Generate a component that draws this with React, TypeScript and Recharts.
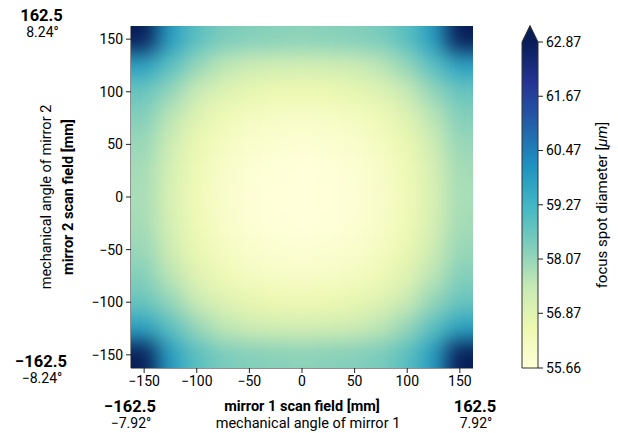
import { ScatterChart, Scatter, XAxis, YAxis, ComposedChart, ReferenceArea } from 'recharts'

// cell centres of the scan field grid [mm]
const X_CENTERS = [-150, -125, -100, -75, -50, -25, 0, 25, 50, 75, 100, 125, 150]
const Y_CENTERS = [150, 125, 100, 75, 50, 25, 0, -25, -50, -75, -100, -125, -150]

// focus spot diameter [um], one row per y centre (top to bottom)
const ROW_P150 = [62.9, 59.9, 58.9, 58.45, 58.3, 58.25, 58.2, 58.25, 58.3, 58.45, 58.9, 59.9, 62.9]
const ROW_P125 = [59.8, 58.9, 58.1, 57.6, 57.35, 57.25, 57.2, 57.25, 57.35, 57.6, 58.1, 58.9, 59.8]
const ROW_P100 = [58.7, 58.1, 57.4, 56.95, 56.7, 56.55, 56.5, 56.55, 56.7, 56.95, 57.4, 58.1, 58.7]
const ROW_P75 = [58.3, 57.6, 56.9, 56.45, 56.2, 56.1, 56.05, 56.1, 56.2, 56.45, 56.9, 57.6, 58.3]
const ROW_P50 = [58.05, 57.3, 56.6, 56.2, 55.95, 55.85, 55.8, 55.85, 55.95, 56.2, 56.6, 57.3, 58.05]
const ROW_P25 = [57.9, 57.1, 56.45, 56.05, 55.8, 55.7, 55.67, 55.7, 55.8, 56.05, 56.45, 57.1, 57.9]
const ROW_0 = [57.85, 57.05, 56.4, 56.0, 55.75, 55.68, 55.66, 55.68, 55.75, 56.0, 56.4, 57.05, 57.85]
const ROW_M25 = [57.9, 57.1, 56.45, 56.05, 55.8, 55.7, 55.67, 55.7, 55.8, 56.05, 56.45, 57.1, 57.9]
const ROW_M50 = [58.05, 57.3, 56.6, 56.2, 55.95, 55.85, 55.8, 55.85, 55.95, 56.2, 56.6, 57.3, 58.05]
const ROW_M75 = [58.3, 57.6, 56.9, 56.45, 56.2, 56.1, 56.05, 56.1, 56.2, 56.45, 56.9, 57.6, 58.3]
const ROW_M100 = [58.7, 58.1, 57.4, 56.95, 56.7, 56.55, 56.5, 56.55, 56.7, 56.95, 57.4, 58.1, 58.7]
const ROW_M125 = [59.8, 58.9, 58.1, 57.6, 57.35, 57.25, 57.2, 57.25, 57.35, 57.6, 58.1, 58.9, 59.8]
const ROW_M150 = [62.9, 59.9, 58.9, 58.45, 58.3, 58.25, 58.2, 58.25, 58.3, 58.45, 58.9, 59.9, 62.9]

const ROWS = [ROW_P150, ROW_P125, ROW_P100, ROW_P75, ROW_P50, ROW_P25, ROW_0, ROW_M25, ROW_M50, ROW_M75, ROW_M100, ROW_M125, ROW_M150]

const AXIS_TICKS = [-150, -100, -50, 0, 50, 100, 150]
const CBAR_TICKS = [55.66, 56.87, 58.07, 59.27, 60.47, 61.67, 62.87]
const CBAR_MIN = 55.66
const CBAR_MAX = 62.87
const FIELD = 162.5

const YLGNBU = ['#ffffd9', '#edf8b1', '#c7e9b4', '#7fcdbb', '#41b6c4', '#1d91c0', '#225ea8', '#253494', '#081d58']

// layout
const PLOT_LEFT = 131
const PLOT_TOP = 26
const PLOT_W = 342
const PLOT_H = 342
const CELL_W = PLOT_W / X_CENTERS.length
const CELL_H = PLOT_H / Y_CENTERS.length
const FONT = 'Roboto, sans-serif'

const hexToRgb = (h: string) => [1, 3, 5].map((i) => parseInt(h.slice(i, i + 2), 16))

const toColor = (v: number) => {
  const t = Math.min(1, Math.max(0, (v - CBAR_MIN) / (CBAR_MAX - CBAR_MIN)))
  const pos = t * (YLGNBU.length - 1)
  const i = Math.min(YLGNBU.length - 2, Math.floor(pos))
  const f = pos - i
  const a = hexToRgb(YLGNBU[i])
  const b = hexToRgb(YLGNBU[i + 1])
  const c = a.map((av, k) => Math.round(av + (b[k] - av) * f))
  return `rgb(${c[0]},${c[1]},${c[2]})`
}

const cells = ROWS.flatMap((row, r) =>
  row.map((v, c) => ({ x: X_CENTERS[c], y: Y_CENTERS[r], v })),
)

const minus = (v: number) => (v < 0 ? `\u2212${Math.abs(v)}` : `${v}`)

const CellShape = (p: any) => (
  <rect
    x={p.cx - CELL_W / 2 - 0.5}
    y={p.cy - CELL_H / 2 - 0.5}
    width={CELL_W + 1}
    height={CELL_H + 1}
    fill={toColor(p.payload.v)}
  />
)

const CbarShape = (p: any) => {
  const { x, y, width, height } = p
  const tip = 16.5
  return (
    <g>
      <rect x={x} y={y} width={width} height={height} fill="url(#cbarGrad)" />
      <path d={`M${x},${y} L${x + width / 2},${y - tip} L${x + width},${y} Z`} fill="#081d58" />
      <path
        d={`M${x},${y + height} L${x},${y} L${x + width / 2},${y - tip} L${x + width},${y} L${x + width},${y + height} Z`}
        fill="none"
        stroke="#333"
        strokeWidth={1}
      />
    </g>
  )
}

const tickStyle = { fontSize: 14, fill: '#000', fontFamily: FONT }

const CornerLabel = ({ x, y, mm, deg }: { x: number; y: number; mm: string; deg: string }) => (
  <g fontFamily={FONT} textAnchor="middle" fill="#000">
    <text x={x} y={y} fontSize={16.5} fontWeight="bold">{mm}</text>
    <text x={x + 1} y={y + 15.5} fontSize={14}>{deg}</text>
  </g>
)

export default function App() {
  return (
    <div style={{ position: 'absolute', left: 0, top: 0, width: 618, height: 433, background: '#fff' }}>
      <style>{`.heatmap .recharts-scatter { filter: url(#heatBlur); }`}</style>
      <div className="heatmap" style={{ position: 'absolute', left: 0, top: 0 }}>
        <ScatterChart
          width={618}
          height={433}
          margin={{ top: PLOT_TOP, right: 618 - PLOT_LEFT - PLOT_W, bottom: 433 - PLOT_TOP - PLOT_H - 30, left: PLOT_LEFT - 40 }}
        >
          <defs>
            <filter
              id="heatBlur"
              filterUnits="userSpaceOnUse"
              x={PLOT_LEFT}
              y={PLOT_TOP}
              width={PLOT_W}
              height={PLOT_H}
              colorInterpolationFilters="sRGB"
            >
              <feGaussianBlur stdDeviation={10} />
              <feComponentTransfer>
                <feFuncA type="table" tableValues="1 1" />
              </feComponentTransfer>
            </filter>
          </defs>
          <XAxis
            type="number"
            dataKey="x"
            domain={[-FIELD, FIELD]}
            ticks={AXIS_TICKS}
            interval={0}
            height={30}
            tickSize={5}
            tickMargin={3}
            tick={tickStyle}
            tickFormatter={minus}
            stroke="#222"
            allowDataOverflow
          />
          <YAxis
            type="number"
            dataKey="y"
            domain={[-FIELD, FIELD]}
            ticks={AXIS_TICKS}
            interval={0}
            width={40}
            tickSize={5}
            tickMargin={3}
            tick={tickStyle}
            tickFormatter={minus}
            stroke="#222"
            allowDataOverflow
          />
          <XAxis xAxisId="top" orientation="top" type="number" domain={[-FIELD, FIELD]} height={0} tick={false} tickLine={false} stroke="#222" />
          <YAxis yAxisId="right" orientation="right" type="number" domain={[-FIELD, FIELD]} width={0} tick={false} tickLine={false} stroke="#222" />
          <Scatter data={cells} shape={CellShape} isAnimationActive={false} />
          <g fontFamily={FONT} fill="#000" textAnchor="middle" fontSize={14.5}>
            <text x={302} y={411} fontWeight="bold">mirror 1 scan field [mm]</text>
            <text x={308} y={427.5}>mechanical angle of mirror 1</text>
            <text x={73} y={197} fontWeight="bold" transform="rotate(-90 73 197)">mirror 2 scan field [mm]</text>
            <text x={51} y={197} transform="rotate(-90 51 197)">mechanical angle of mirror 2</text>
          </g>
          <CornerLabel x={41.5} y={21} mm="162.5" deg="8.24°" />
          <CornerLabel x={41} y={367} mm={'\u2212162.5'} deg={'\u22128.24°'} />
          <CornerLabel x={130} y={412} mm={'\u2212162.5'} deg={'\u22127.92°'} />
          <CornerLabel x={475} y={412} mm="162.5" deg="7.92°" />
        </ScatterChart>
      </div>
      <div style={{ position: 'absolute', left: 480, top: 0 }}>
        <ComposedChart width={138} height={433} data={[{ x: 0 }, { x: 1 }]} margin={{ top: 42, right: 20, bottom: 65, left: 42 }}>
          <defs>
            <linearGradient id="cbarGrad" x1="0" y1="1" x2="0" y2="0">
              {YLGNBU.map((c, i) => (
                <stop key={c} offset={i / (YLGNBU.length - 1)} stopColor={c} />
              ))}
            </linearGradient>
          </defs>
          <XAxis type="number" dataKey="x" domain={[0, 1]} hide />
          <YAxis
            orientation="right"
            type="number"
            domain={[CBAR_MIN, CBAR_MAX]}
            ticks={CBAR_TICKS}
            interval={0}
            width={60}
            tickSize={5}
            tickMargin={3}
            tick={tickStyle}
            tickFormatter={(v: number) => v.toFixed(2)}
            axisLine={false}
            stroke="#222"
            allowDataOverflow
          />
          <ReferenceArea y1={CBAR_MIN} y2={CBAR_MAX} shape={CbarShape} ifOverflow="visible" />
          <text x={127} y={205} fontFamily={FONT} fontSize={15} textAnchor="middle" fill="#000" transform="rotate(-90 127 205)">
            focus spot diameter [<tspan fontStyle="italic">μm</tspan>]
          </text>
        </ComposedChart>
      </div>
    </div>
  )
}
